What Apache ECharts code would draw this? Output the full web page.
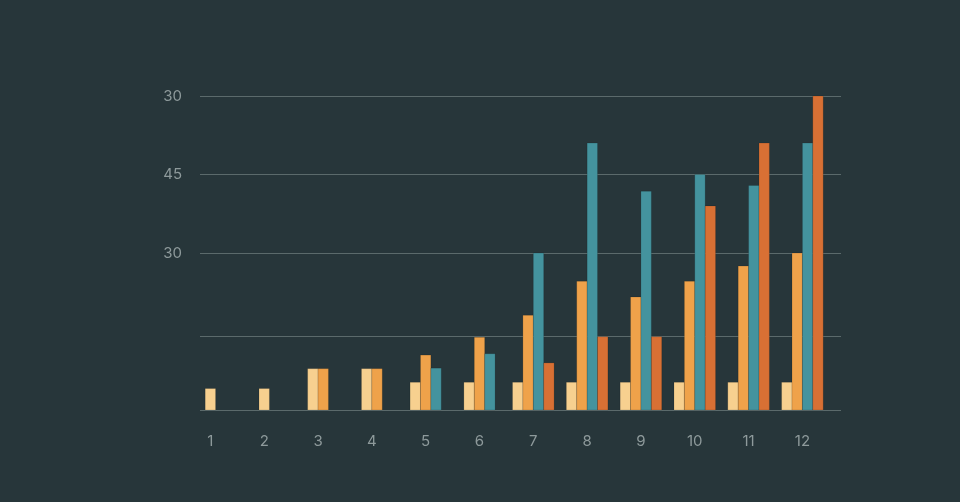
<!DOCTYPE html>
<html>
<head>
<meta charset="utf-8">
<script src="https://cdn.jsdelivr.net/npm/echarts@6/dist/echarts.min.js"></script>
<style>
html,body{margin:0;padding:0;background:#27363a;}
#chart{width:960px;height:502px;}
</style>
</head>
<body>
<div id="chart"></div>
<script>
// ---- data ----
const categories = ['1','2','3','4','5','6','7','8','9','10','11','12'];
const seriesA = [4.1, 4.1, 7.9, 7.9, 5.3, 5.3, 5.3, 5.3, 5.3, 5.3, 5.3, 5.3];
const seriesB = [null, null, 7.9, 7.9, 10.5, 13.9, 18.1, 24.6, 21.6, 24.6, 27.5, 30];
const seriesC = [null, null, null, null, 8.0, 10.75, 30, 51, 41.8, 45, 42.9, 51];
const seriesD = [null, null, null, null, null, null, 9, 14, 14, 39, 51, 60];
const yGridValues = [0, 14, 30, 45, 60];
const yLabelValues = [30, 45, 60];
const yLabelTexts = ['30', '45', '30'];

// ---- style ----
const colors = ['#f7d08f', '#efa24a', '#44939e', '#d87034'];
const allSeries = [seriesA, seriesB, seriesC, seriesD];
const BAR_W = 10.4;

function makeRender(sIdx) {
  return function (params, api) {
    const ci = api.value(0) - 1;
    const val = api.value(1);
    // visible bars in this category, centered as a group
    const visible = [];
    allSeries.forEach((s, k) => { if (s[ci] != null) visible.push(k); });
    const slot = visible.indexOf(sIdx);
    const n = visible.length;
    const base = api.coord([api.value(0), 0]);
    const top = api.coord([api.value(0), val]);
    const x = base[0] - (n * BAR_W) / 2 + slot * BAR_W;
    return {
      type: 'rect',
      shape: { x: x, y: top[1], width: BAR_W, height: base[1] - top[1] },
      style: {
        fill: colors[sIdx],
        stroke: 'rgba(0,0,0,0.13)',
        lineWidth: 1
      }
    };
  };
}

const chart = echarts.init(document.getElementById('chart'), null, { renderer: 'canvas' });
const labelStyle = { color: '#8e9a9b', fontSize: 15, fontFamily: 'Inter, "Noto Sans", sans-serif' };

chart.setOption({
  backgroundColor: '#27363a',
  animation: false,
  grid: { left: 200, right: 119, top: 96, bottom: 92 },
  xAxis: {
    type: 'value',
    min: 0.807,
    max: 12.717,
    axisLine: { show: false },
    axisTick: { show: false },
    splitLine: { show: false },
    axisLabel: Object.assign({
      customValues: categories.map((c, i) => i + 1),
      formatter: v => categories[Math.round(v) - 1],
      margin: 24
    }, labelStyle)
  },
  yAxis: {
    type: 'value',
    min: 0,
    max: 60,
    axisLine: { show: false },
    axisTick: { show: false, customValues: yGridValues },
    splitLine: { show: true, lineStyle: { color: '#5b6a6b', width: 1.2 } },
    axisLabel: Object.assign({
      customValues: yLabelValues,
      formatter: v => yLabelTexts[yLabelValues.indexOf(v)],
      margin: 18
    }, labelStyle)
  },
  series: allSeries.map((s, k) => ({
    type: 'custom',
    renderItem: makeRender(k),
    encode: { x: 0, y: 1 },
    data: s.map((v, i) => v == null ? null : [i + 1, v]).filter(d => d)
  }))
});
</script>
</body>
</html>
